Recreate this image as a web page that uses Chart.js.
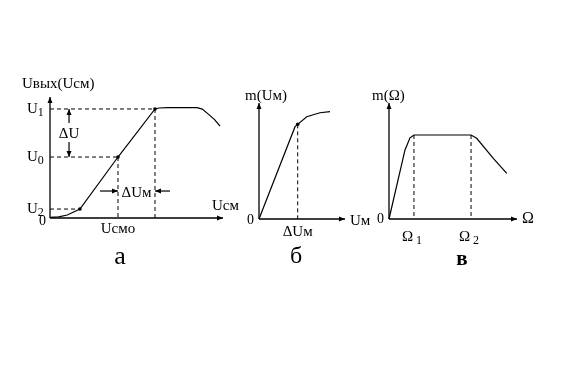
<!DOCTYPE html>
<html>
<head>
<meta charset="utf-8">
<script src="https://cdn.jsdelivr.net/npm/chart.js@4"></script>
<style>
  body { margin: 0; background: #fff; width: 571px; height: 378px; overflow: hidden; position: relative; }
  canvas { position: absolute; }
</style>
</head>
<body>
<canvas id="chart-a" width="240" height="220" style="left:0;top:60px"></canvas>
<canvas id="chart-b" width="150" height="210" style="left:230px;top:70px"></canvas>
<canvas id="chart-c" width="180" height="210" style="left:360px;top:70px"></canvas>
<script>
const FONT = '"Liberation Serif", "Times New Roman", serif';

// а: Uвых(Uсм) characteristic
const aCurveX = [0, 5, 10, 17.3, 39.3, 60.7, 63, 68, 85, 88, 91, 95, 98.3];
const aCurveY = [0.5, 1, 2.5, 7.4, 50.4, 90.1, 90.9, 91.2, 91.2, 90, 86.5, 81.5, 76];
const aLevelNames = ['U', 'U', 'U'];
const aLevelSubs = ['2', '0', '1'];
const aLevelX = [17.3, 39.3, 60.7];
const aLevelY = [7.4, 50.4, 90.1];

// б: m(Uм)
const bCurveX = [0, 41.9, 45, 55.5, 70.9, 82.6];
const bCurveY = [0, 79.6, 81.6, 88.2, 91.6, 92.5];
const bMarkX = 45;

// в: m(Ω)
const cCurveX = [0, 12.5, 16.4, 19.5, 64.1, 68.5, 81.5, 92];
const cCurveY = [0, 59.5, 70, 72.4, 72.4, 69.6, 52.3, 39.4];
const cOmegaX = [19.5, 64.1];
const cOmegaSubs = ['1', '2'];

let pts = (xs, ys) => xs.map((x, i) => ({ x: x, y: ys[i] }));

let line = (data, dash, width) => ({
    data: data,
    showLine: true,
    borderColor: '#000',
    borderWidth: width || 1.2,
    borderDash: dash || [],
    pointRadius: 0,
    tension: 0,
    clip: false
});

let dots = data => ({
    data: data,
    showLine: false,
    pointRadius: 1.8,
    pointBackgroundColor: '#000',
    pointBorderWidth: 0,
    clip: false
});

let axes = () => [
    line([{ x: 0, y: 0 }, { x: 100, y: 0 }], [], 1.3),
    line([{ x: 0, y: 0 }, { x: 0, y: 100 }], [], 1.3)
];

let arrowHead = (ctx, x, y, dx, dy) => {
    // small filled head pointing along (dx, dy)
    const len = 6, half = 2.5;
    ctx.beginPath();
    ctx.moveTo(x, y);
    ctx.lineTo(x - dx * len - dy * half, y - dy * len + dx * half);
    ctx.lineTo(x - dx * len + dy * half, y - dy * len - dx * half);
    ctx.closePath();
    ctx.fill();
};

let seg = (ctx, x1, y1, x2, y2) => {
    ctx.beginPath();
    ctx.moveTo(x1, y1);
    ctx.lineTo(x2, y2);
    ctx.stroke();
};

let text = (ctx, str, x, y, size, sub, align, weight) => {
    const w0 = weight ? weight + ' ' : '';
    ctx.font = w0 + size + 'px ' + FONT;
    const w = ctx.measureText(str).width;
    let subW = 0;
    if (sub) {
        ctx.font = Math.round(size * 0.8) + 'px ' + FONT;
        subW = ctx.measureText(sub).width;
    }
    let total = w + subW;
    let x0 = align === 'center' ? x - total / 2 : align === 'right' ? x - total : x;
    ctx.textAlign = 'left';
    ctx.textBaseline = 'alphabetic';
    ctx.font = w0 + size + 'px ' + FONT;
    ctx.fillText(str, x0, y);
    if (sub) {
        ctx.font = Math.round(size * 0.8) + 'px ' + FONT;
        ctx.fillText(sub, x0 + w, y + 3);
    }
};

let drawAxisHeads = (ctx, sx, sy) => {
    arrowHead(ctx, sx.getPixelForValue(100), sy.getPixelForValue(0), 1, 0);
    arrowHead(ctx, sx.getPixelForValue(0), sy.getPixelForValue(100), 0, -1);
};

let initChart = (id, padding, datasets, notes) => {
    new Chart(document.getElementById(id), {
        type: 'scatter',
        data: { datasets: datasets },
        options: {
            responsive: false,
            animation: false,
            events: [],
            layout: { padding: padding },
            plugins: {
                legend: { display: false },
                tooltip: { enabled: false }
            },
            scales: {
                x: { type: 'linear', min: 0, max: 100, display: false },
                y: { type: 'linear', min: 0, max: 100, display: false }
            }
        },
        plugins: [{
            id: 'notes',
            afterDraw: chart => {
                const ctx = chart.ctx;
                ctx.save();
                ctx.fillStyle = '#000';
                ctx.strokeStyle = '#000';
                ctx.lineWidth = 1.2;
                drawAxisHeads(ctx, chart.scales.x, chart.scales.y);
                notes(ctx, chart.scales.x, chart.scales.y);
                ctx.restore();
            }
        }]
    });
};

// ---- panel а
let aSets = axes();
aLevelX.forEach((x, i) => {
    aSets.push(line([{ x: 0, y: aLevelY[i] }, { x: x, y: aLevelY[i] }], [4, 3], 1));
    if (i > 0) aSets.push(line([{ x: x, y: aLevelY[i] }, { x: x, y: 0 }], [4, 3], 1));
});
aSets.push(line(pts(aCurveX, aCurveY), [], 1.2));
aSets.push(dots(pts(aLevelX, aLevelY)));

initChart('chart-a', { left: 50, right: 17, top: 37, bottom: 62 }, aSets, (ctx, sx, sy) => {
    const ox = sx.getPixelForValue(0), oy = sy.getPixelForValue(0);
    text(ctx, 'Uвых(Uсм)', 22, 28, 15);
    aLevelY.forEach((v, i) => {
        text(ctx, aLevelNames[i], 27, sy.getPixelForValue(v) + 4, 15, aLevelSubs[i]);
    });
    text(ctx, '0', ox - 4, oy + 7, 14, null, 'right');
    text(ctx, 'Uсм', 212, 150, 15);
    text(ctx, 'Uсмо', sx.getPixelForValue(aLevelX[1]), oy + 15, 15, null, 'center');
    text(ctx, 'а', 120, 204, 26, null, 'center');

    // ΔU between U1 and U0
    const ax = sx.getPixelForValue(11);
    const y1 = sy.getPixelForValue(aLevelY[2]), y0 = sy.getPixelForValue(aLevelY[1]);
    seg(ctx, ax, y1, ax, y1 + 14);
    arrowHead(ctx, ax, y1, 0, -1);
    text(ctx, 'ΔU', ax, y1 + 29, 15, null, 'center');
    seg(ctx, ax, y0 - 15, ax, y0);
    arrowHead(ctx, ax, y0, 0, 1);

    // ΔUм between the two drop lines
    const ay = sy.getPixelForValue(22.3);
    const xl = sx.getPixelForValue(aLevelX[1]), xr = sx.getPixelForValue(aLevelX[2]);
    seg(ctx, xl - 18, ay, xl, ay);
    arrowHead(ctx, xl, ay, 1, 0);
    seg(ctx, xr + 15, ay, xr, ay);
    arrowHead(ctx, xr, ay, -1, 0);
    text(ctx, 'ΔUм', (xl + xr) / 2, ay + 6, 15, null, 'center');
});

// ---- panel б
let bSets = axes();
const bTop = bCurveY[bCurveX.indexOf(bMarkX)];
bSets.push(line([{ x: bMarkX, y: bTop }, { x: bMarkX, y: 0 }], [4, 3], 1));
bSets.push(line(pts(bCurveX, bCurveY), [], 1.2));
bSets.push(dots([{ x: bMarkX, y: bTop }]));

initChart('chart-b', { left: 29, right: 35, top: 33, bottom: 61 }, bSets, (ctx, sx, sy) => {
    const ox = sx.getPixelForValue(0), oy = sy.getPixelForValue(0);
    text(ctx, 'm(Uм)', 15, 30, 15);
    text(ctx, '0', ox - 5, oy + 5, 14, null, 'right');
    text(ctx, 'Uм', 120, oy + 6, 15);
    text(ctx, 'ΔUм', sx.getPixelForValue(bMarkX), oy + 17, 15, null, 'center');
    text(ctx, 'б', 66, 193, 24, null, 'center');
});

// ---- panel в
let cSets = axes();
cOmegaX.forEach(x => {
    cSets.push(line([{ x: x, y: cCurveY[cCurveX.indexOf(x)] }, { x: x, y: 0 }], [4, 3], 1));
});
cSets.push(line(pts(cCurveX, cCurveY), [], 1.2));

initChart('chart-c', { left: 29, right: 23, top: 33, bottom: 61 }, cSets, (ctx, sx, sy) => {
    const ox = sx.getPixelForValue(0), oy = sy.getPixelForValue(0);
    text(ctx, 'm(Ω)', 12, 30, 15);
    text(ctx, '0', ox - 5, oy + 4, 14, null, 'right');
    text(ctx, 'Ω', 162, oy + 4, 16);
    cOmegaX.forEach((x, i) => {
        text(ctx, 'Ω', sx.getPixelForValue(x) - 2, oy + 22, 15, ' ' + cOmegaSubs[i], 'center');
    });
    text(ctx, 'в', 102, 195, 21, null, 'center', 'bold');
});
</script>
</body>
</html>
